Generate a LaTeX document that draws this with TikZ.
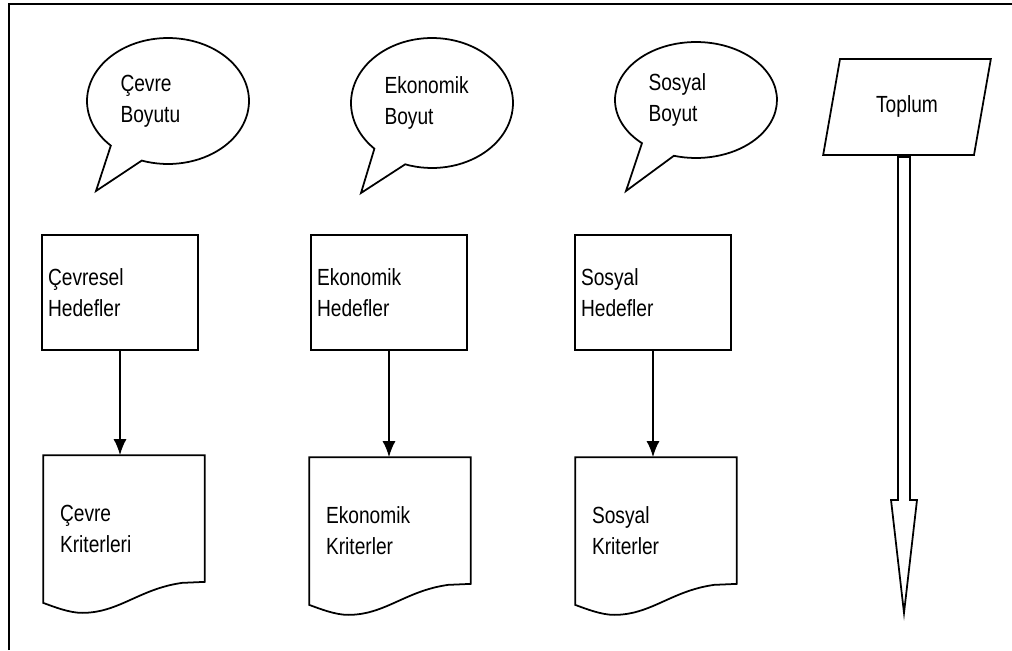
\documentclass[tikz,border=0pt]{standalone}
\usepackage{fontspec}
\setmainfont{Liberation Sans}[FakeStretch=0.82]
\usetikzlibrary{shapes}
\usetikzlibrary{arrows.meta}
\usetikzlibrary{calc}

\begin{document}
\begin{tikzpicture}[x=0.02cm,y=-0.02cm,line width=1pt]
\tikzstyle{bubble} = [ellipse callout, draw, inner sep=0, text width=1.9cm, align=left,
minimum width=3.24cm, callout pointer arc=26, font=\fontsize{13.3}{17.6}\selectfont]
\tikzstyle{block} = [rectangle, draw, inner xsep=0.12cm, text width=2.88cm, align=left,
minimum width=3.12cm, minimum height=2.3cm, font=\fontsize{13.3}{17.6}\selectfont]
\tikzstyle{doc} = [rectangle, inner xsep=0.32cm, text width=2.56cm, align=left,
minimum width=3.2cm, minimum height=2.92cm, font=\fontsize{13.3}{17.6}\selectfont]
\tikzstyle{input} = [trapezium, draw, trapezium left angle=70.5, trapezium right angle=109.5,
trapezium stretches=true, minimum width=3.36cm, minimum height=1.92cm, inner sep=0,
font=\fontsize{13.3}{17.6}\selectfont]
\tikzstyle{line} = [draw, -{Latex[length=0.32cm,width=0.26cm]}]
\useasboundingbox (0,0) rectangle (1012,650);
% frame
\draw[line width=1.4pt] (9,650) -- (9,4) -- (1012,4);
% row 1
\node [bubble, minimum height=2.52cm, callout absolute pointer={(96,191)}] (c1) at (168,101) {Çevre\\Boyutu};
\node [bubble, minimum height=2.6cm, callout absolute pointer={(361,193)}] (c2) at (432,103) {Ekonomik\\Boyut};
\node [bubble, minimum height=2.32cm, callout absolute pointer={(626,191)}] (c3) at (696,100) {Sosyal\\Boyut};
\node [input] (tp) at (907,107) {\raisebox{0.1cm}{Toplum}};
% row 2
\node [block] (h1) at (120,292.5) {\raisebox{0.1cm}{\parbox{2.88cm}{Çevresel\\Hedefler}}};
\node [block] (h2) at (389,292.5) {\raisebox{0.1cm}{\parbox{2.88cm}{Ekonomik\\Hedefler}}};
\node [block] (h3) at (653,292.5) {\raisebox{0.1cm}{\parbox{2.88cm}{Sosyal\\Hedefler}}};
% row 3
\node [doc] (k1) at (124,529) {Çevre\\Kriterleri};
\node [doc] (k2) at (390,531) {Ekonomik\\Kriterler};
\node [doc] (k3) at (656,531) {Sosyal\\Kriterler};
\draw (k1.north west) -- (k1.north east) -- ($(k1.south east)+(0,-21)$) -- ($(k1.south west)+(139,-20)$)
  .. controls ($(k1.south west)+(96,-14)$) and ($(k1.south west)+(76,10)$) .. ($(k1.south west)+(39,10)$)
  .. controls ($(k1.south west)+(26,10)$) and ($(k1.south west)+(11,4)$) .. (k1.south west) -- cycle;
\draw (k2.north west) -- (k2.north east) -- ($(k2.south east)+(0,-21)$) -- ($(k2.south west)+(139,-20)$)
  .. controls ($(k2.south west)+(96,-14)$) and ($(k2.south west)+(76,10)$) .. ($(k2.south west)+(39,10)$)
  .. controls ($(k2.south west)+(26,10)$) and ($(k2.south west)+(11,4)$) .. (k2.south west) -- cycle;
\draw (k3.north west) -- (k3.north east) -- ($(k3.south east)+(0,-21)$) -- ($(k3.south west)+(139,-20)$)
  .. controls ($(k3.south west)+(96,-14)$) and ($(k3.south west)+(76,10)$) .. ($(k3.south west)+(39,10)$)
  .. controls ($(k3.south west)+(26,10)$) and ($(k3.south west)+(11,4)$) .. (k3.south west) -- cycle;
% arrows
\path[line] (h1) -- (h1 |- k1.north);
\path[line] (h2) -- (h2 |- k2.north);
\path[line] (h3) -- (h3 |- k3.north);
\draw ($(tp.south)+(-9,1)$) -- ++(0,343) -- ++(-7,0) -- ++(13,113) -- ++(13,-113) -- ++(-7,0) -- ++(0,-343) -- cycle;
\end{tikzpicture}
\end{document}
